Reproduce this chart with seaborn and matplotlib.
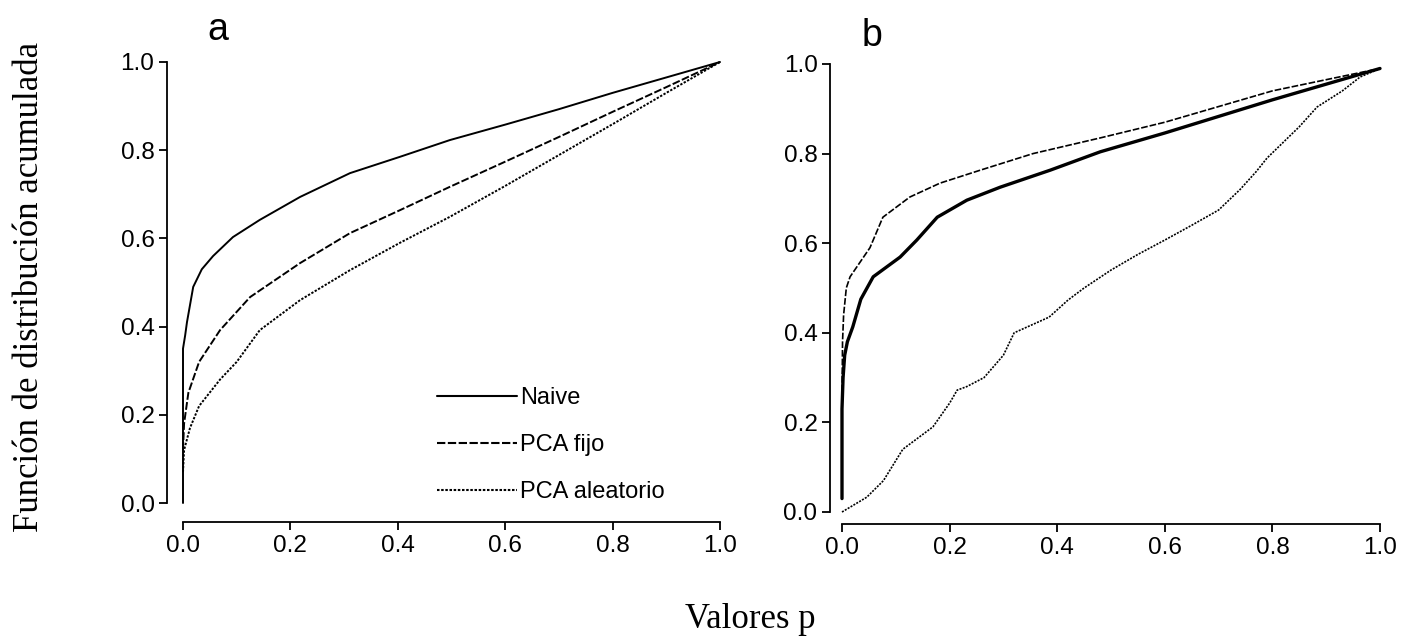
import matplotlib
matplotlib.use("Agg")
import matplotlib.pyplot as plt
import seaborn as sns

# panel a (curves)
naive_a_x = [0, 0, 0.004, 0.0074, 0.019, 0.035, 0.056, 0.093, 0.143, 0.218, 0.311, 0.404, 0.497, 0.6, 0.7, 0.8, 0.9, 1.0]
naive_a_y = [0, 0.35, 0.38, 0.41, 0.49, 0.53, 0.56, 0.603, 0.642, 0.694, 0.748, 0.785, 0.823, 0.858, 0.893, 0.93, 0.965, 1.0]

fijo_a_x = [0, 0.002, 0.01, 0.03, 0.069, 0.125, 0.218, 0.311, 0.404, 0.497, 0.6, 0.7, 0.8, 0.9, 1.0]
fijo_a_y = [0.12, 0.18, 0.25, 0.32, 0.392, 0.467, 0.544, 0.612, 0.664, 0.717, 0.774, 0.83, 0.887, 0.943, 1.0]

alea_a_x = [0, 0.002, 0.013, 0.03, 0.069, 0.1, 0.143, 0.218, 0.311, 0.404, 0.497, 0.6, 0.7, 0.8, 0.9, 1.0]
alea_a_y = [0.07, 0.12, 0.17, 0.22, 0.28, 0.32, 0.392, 0.46, 0.528, 0.59, 0.649, 0.719, 0.789, 0.859, 0.93, 1.0]

# panel b
naive_b_x = [0, 0, 0.002, 0.005, 0.01, 0.02, 0.035, 0.058, 0.108, 0.139, 0.177, 0.232, 0.294, 0.387, 0.48, 0.6, 0.7, 0.8, 0.9, 1.0]
naive_b_y = [0.03, 0.23, 0.3, 0.35, 0.38, 0.413, 0.475, 0.525, 0.569, 0.607, 0.658, 0.696, 0.725, 0.763, 0.804, 0.846, 0.883, 0.92, 0.955, 0.99]

fijo_b_x = [0, 0.001, 0.003, 0.008, 0.015, 0.052, 0.076, 0.126, 0.182, 0.257, 0.355, 0.48, 0.6, 0.7, 0.8, 0.9, 1.0]
fijo_b_y = [0.25, 0.38, 0.44, 0.5, 0.525, 0.59, 0.658, 0.703, 0.734, 0.763, 0.80, 0.835, 0.87, 0.905, 0.94, 0.965, 0.99]

alea_b_x = [0, 0.046, 0.077, 0.113, 0.169, 0.2, 0.214, 0.232, 0.264, 0.3, 0.32, 0.385, 0.42, 0.45, 0.5, 0.55,
            0.6, 0.65, 0.7, 0.74, 0.77, 0.79, 0.85, 0.883, 0.93, 0.963, 1.0]
alea_b_y = [0, 0.033, 0.07, 0.14, 0.19, 0.243, 0.272, 0.28, 0.30, 0.35, 0.40, 0.435, 0.473, 0.5, 0.54, 0.575,
            0.607, 0.64, 0.674, 0.72, 0.76, 0.79, 0.86, 0.904, 0.94, 0.971, 0.99]

labels = ["Naive", "PCA fijo", "PCA aleatorio"]
ticks = [0.0, 0.2, 0.4, 0.6, 0.8, 1.0]
tick_labels = ["0.0", "0.2", "0.4", "0.6", "0.8", "1.0"]

sns.set_theme(style="ticks")
plt.rcParams["font.family"] = ["Liberation Sans", "DejaVu Sans"]
plt.rcParams["text.color"] = "black"

W, H = 1403, 636
fig = plt.figure(figsize=(W / 100, H / 100), dpi=100)


def px_axes(x0, x1, y0, y1):
    # data 0..1 mapped onto pixel box
    return fig.add_axes([x0 / W, (H - y0) / H, (x1 - x0) / W, (y0 - y1) / H])


ax_a = px_axes(183, 720, 503, 62)
ax_b = px_axes(842, 1380, 512, 64)

styles = [dict(linestyle="-"), dict(dashes=(4, 1.2)), dict(dashes=(1.2, 0.8))]

curves_a = [(naive_a_x, naive_a_y), (fijo_a_x, fijo_a_y), (alea_a_x, alea_a_y)]
curves_b = [(naive_b_x, naive_b_y), (fijo_b_x, fijo_b_y), (alea_b_x, alea_b_y)]
widths_b = [2.4, 1.2, 1.2]

for (x, y), lab, st in zip(curves_a, labels, styles):
    sns.lineplot(x=x, y=y, ax=ax_a, color="black", lw=1.4, estimator=None, sort=False,
                 label=lab, **st)
for (x, y), st, lw in zip(curves_b, styles, widths_b):
    sns.lineplot(x=x, y=y, ax=ax_b, color="black", lw=lw, estimator=None, sort=False, **st)

for ax, offs in [(ax_a, (16, 19)), (ax_b, (12, 12))]:
    ax.set_xlim(0, 1)
    ax.set_ylim(0, 1)
    for ln in ax.get_lines():
        ln.set_clip_on(False)
    sns.despine(ax=ax)
    ax.spines["left"].set_position(("outward", offs[0] * 0.72))
    ax.spines["bottom"].set_position(("outward", offs[1] * 0.72))
    ax.spines["left"].set_bounds(0, 1)
    ax.spines["bottom"].set_bounds(0, 1)
    for s in ("left", "bottom"):
        ax.spines[s].set_linewidth(1.3)
        ax.spines[s].set_color("black")
    ax.set_xticks(ticks)
    ax.set_xticklabels(tick_labels)
    ax.set_yticks(ticks)
    ax.set_yticklabels(tick_labels)
    ax.tick_params(direction="out", length=6, width=1.3, labelsize=17.5, colors="black", pad=3)
    ax.set_xlabel("")
    ax.set_ylabel("")

leg = ax_a.legend(loc="upper left", bbox_to_anchor=(0.473, 0.262), frameon=False, fontsize=17,
                  handlelength=3.4, handletextpad=0.1, labelspacing=1.05, borderpad=0, borderaxespad=0)
for h in leg.get_lines():
    h.set_linewidth(1.5)
if ax_b.get_legend() is not None:
    ax_b.get_legend().remove()

fig.text(218 / W, 1 - 30 / H, "a", fontsize=27, ha="center", va="center")
fig.text(872 / W, 1 - 36 / H, "b", fontsize=27, ha="center", va="center")

fig.text(30 / W, 1 - 287 / H, "Función de distribución acumulada", rotation=90, fontsize=25,
         family="Liberation Serif", ha="center", va="center")
fig.text(750 / W, 1 - 619 / H, "Valores p", fontsize=25, family="Liberation Serif",
         ha="center", va="center")

fig.savefig("out.png", dpi=100)
